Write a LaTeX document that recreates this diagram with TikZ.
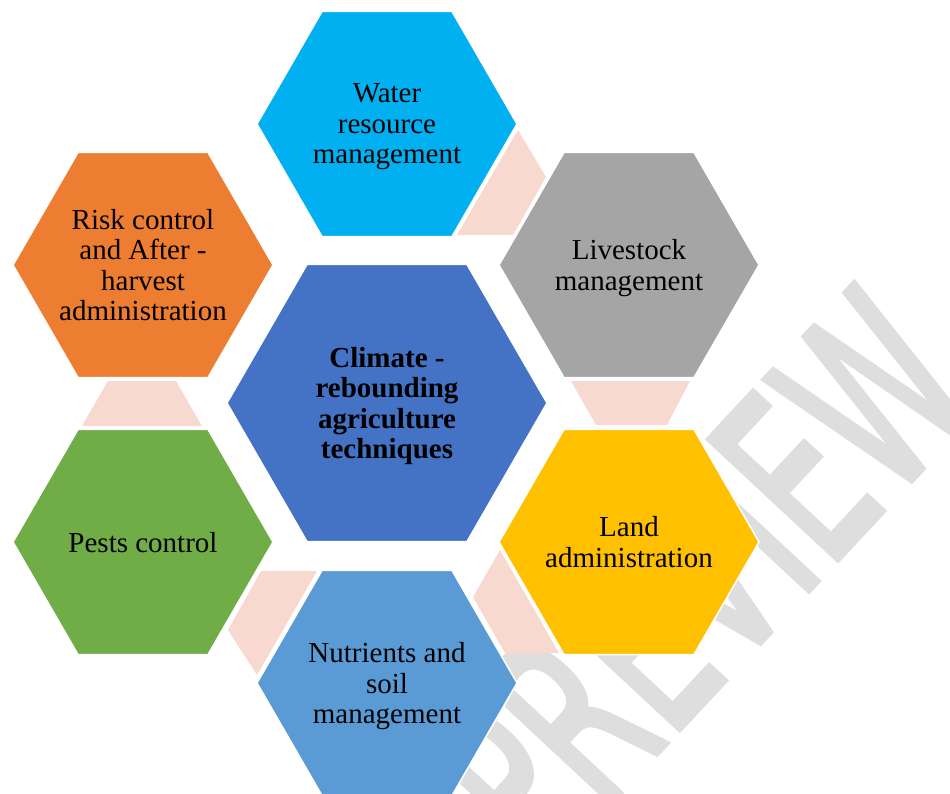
\documentclass[tikz,border=0pt]{standalone}
\usepackage{fontspec}
\setmainfont{Liberation Serif}
\newfontfamily\wmfont{DejaVu Sans}[FakeBold=3]
\usetikzlibrary{shapes.geometric}
\definecolor{cwater}{HTML}{00B0F0}
\definecolor{clive}{HTML}{A5A5A5}
\definecolor{cland}{HTML}{FFC000}
\definecolor{cnutr}{HTML}{5B9BD5}
\definecolor{cpest}{HTML}{70AD47}
\definecolor{crisk}{HTML}{ED7D31}
\definecolor{ccore}{HTML}{4472C4}
\definecolor{cpink}{HTML}{F8D9CF}
\definecolor{cwm}{HTML}{DEDEDE}
\begin{document}
\begin{tikzpicture}[x=1pt,y=-1pt,
  hexa/.style={regular polygon, regular polygon sides=6, inner sep=0pt, draw=white, line width=1.5pt},
  outerhex/.style={hexa, minimum size=260pt},
  corehex/.style={hexa, minimum size=320pt},
  lbl/.style={align=center, text=black, text depth=0pt, font=\fontsize{29}{30.5}\selectfont},
  corelbl/.style={lbl, font=\bfseries\fontsize{29}{30.5}\selectfont},
  wmstyle/.style={text=cwm, inner sep=0pt, rotate=47, xscale=0.6, font=\wmfont\fontsize{240}{240}\selectfont},
  link/.style={fill=cpink}]
\useasboundingbox (0,0) rectangle (950,794);
% watermark
\node[wmstyle] (wmark) at (700,578) {PREVIEW};
% pink links
\fill[link] (518,130) -- (546,177) -- (513,235) -- (457,235) -- cycle;
\fill[link] (571,381) -- (690,381) -- (667,425) -- (596,425) -- cycle;
\fill[link] (500,550) -- (559,653) -- (505,653) -- (473,597) -- cycle;
\fill[link] (261,571) -- (317,571) -- (257,675) -- (228,630) -- cycle;
\fill[link] (108,381) -- (176,381) -- (202,426) -- (82,426) -- cycle;
% hexagons
\node[corehex, fill=ccore] (core) at (387,403) {};
\node[outerhex, fill=cwater] (water) at (387,124) {};
\node[outerhex, fill=clive] (live) at (629,265) {};
\node[outerhex, fill=cland] (land) at (629,542) {};
\node[outerhex, fill=cnutr] (nutr) at (387,683) {};
\node[outerhex, fill=cpest] (pest) at (143,542) {};
\node[outerhex, fill=crisk] (risk) at (143,265) {};
% labels
\node[corelbl] (core-t) at (core) {Climate -\\rebounding\\agriculture\\techniques};
\node[lbl] (water-t) at (water) {Water\\resource\\management};
\node[lbl] (live-t) at (live) {Livestock\\management};
\node[lbl] (land-t) at (land) {Land\\administration};
\node[lbl] (nutr-t) at (nutr) {Nutrients and\\soil\\management};
\node[lbl] (pest-t) at (pest) {Pests control};
\node[lbl] (risk-t) at (risk) {Risk control\\and After -\\harvest\\administration};
\end{tikzpicture}
\end{document}
